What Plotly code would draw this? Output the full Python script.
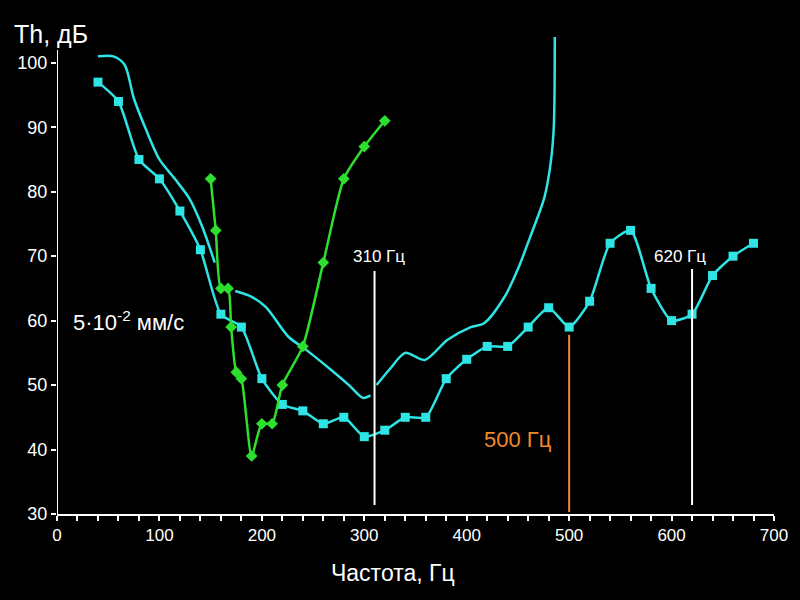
import plotly.graph_objects as go

# Series 1: cyan squares
s1_x = [40, 60, 80, 100, 120, 140, 160, 180, 200, 220, 240, 260, 280, 300, 320, 340, 360,
        380, 400, 420, 440, 460, 480, 500, 520, 540, 560, 580, 600, 620, 640, 660, 680]
s1_y = [97, 94, 85, 82, 77, 71, 61, 59, 51, 47, 46, 44, 45, 42, 43, 45, 45,
        51, 54, 56, 56, 59, 62, 59, 63, 72, 74, 65, 60, 61, 67, 70, 72]

# Series 2: green diamonds
s2_x = [150, 155, 160, 167, 170, 175, 180, 190, 200, 210, 220, 240, 260, 280, 300, 320]
s2_y = [82, 74, 65, 65, 59, 52, 51, 39, 44, 44, 50, 56, 69, 82, 87, 91]

# Series 3: cyan line without markers (with gaps)
s3_x = [40, 55, 66, 75, 87, 100, 115, 129, 142, 154, None,
        174, 190, 204, 226, 243, 268, 285, 299, 306, None,
        312, 325, 340, 359, 381, 404, 417, 437, 450, 462, 476, 482, 485, 486]
s3_y = [101, 101, 99.7, 94.5, 89.6, 85, 82, 79, 74.5, 69, None,
        64.6, 63.7, 62.1, 57.5, 55.5, 52.3, 50, 48, 48.4, None,
        50, 52.5, 55, 53.9, 57, 59, 59.6, 63.7, 68, 73, 79.2, 84.5, 90, 104]

# Marker lines
vlines = [310, 500, 620]
vline_tops = [67.7, 57.8, 68]
vline_bottoms = [31.4, 30.3, 31.4]
vline_labels = ["310 Гц", "500 Гц", "620 Гц"]

x_ticks = [0, 100, 200, 300, 400, 500, 600, 700]
y_ticks = [30, 40, 50, 60, 70, 80, 90, 100]

CYAN = "#2ee4e4"
GREEN = "#2ee02e"
ORANGE = "#f28a2a"
FONT = "Liberation Sans, Arial, sans-serif"

fig = go.Figure()

fig.add_trace(go.Scatter(x=s3_x, y=s3_y, mode="lines", connectgaps=False,
                         line=dict(color=CYAN, width=2.5, shape="spline", smoothing=0.8),
                         showlegend=False, hoverinfo="skip"))
fig.add_trace(go.Scatter(x=s1_x, y=s1_y, mode="lines+markers",
                         line=dict(color=CYAN, width=2.5, shape="spline", smoothing=0.6),
                         marker=dict(symbol="square", size=9, color=CYAN),
                         showlegend=False))
fig.add_trace(go.Scatter(x=s2_x, y=s2_y, mode="lines+markers",
                         line=dict(color=GREEN, width=2.5, shape="spline", smoothing=0.6),
                         marker=dict(symbol="diamond", size=9, color=GREEN),
                         showlegend=False))

# vertical marker lines
colors = ["white", ORANGE, "white"]
for xv, top, bot, col in zip(vlines, vline_tops, vline_bottoms, colors):
    fig.add_shape(type="line", xref="x", yref="y", x0=xv, x1=xv, y0=bot, y1=top,
                  line=dict(color=col, width=2))

fig.add_annotation(x=314, y=69.9, xref="x", yref="y", text=vline_labels[0], showarrow=False,
                   yanchor="middle", font=dict(color="white", size=17, family=FONT))
fig.add_annotation(x=608, y=70.0, xref="x", yref="y", text=vline_labels[2], showarrow=False,
                   yanchor="middle", font=dict(color="white", size=17, family=FONT))
fig.add_annotation(x=485, y=41.5, xref="x", yref="y", text=vline_labels[1], showarrow=False,
                   xanchor="right", yanchor="middle",
                   font=dict(color=ORANGE, size=22, family=FONT))

fig.add_annotation(x=14, y=60, xref="x", yref="y", text="5·10<sup>-2</sup> мм/с",
                   showarrow=False, xanchor="left", font=dict(color="white", size=22, family=FONT))

# y-axis line drawn as shape (stops at ~102)
fig.add_shape(type="line", xref="x", yref="y", x0=0, x1=0, y0=30, y1=102,
              line=dict(color="white", width=2))

# axis titles
fig.add_annotation(x=-0.063, y=1.006, xref="paper", yref="paper", text="Th, дБ",
                   showarrow=False, xanchor="left", yanchor="middle",
                   font=dict(color="white", size=25, family=FONT))
fig.add_annotation(x=0.469, y=-0.124, xref="paper", yref="paper", text="Частота, Гц",
                   showarrow=False, xanchor="center", yanchor="middle",
                   font=dict(color="white", size=23, family=FONT))

fig.update_layout(
    width=800, height=600,
    paper_bgcolor="black", plot_bgcolor="black",
    margin=dict(l=57, r=20, t=37, b=86),
    showlegend=False,
    xaxis=dict(range=[0, 700], tickvals=x_ticks, ticks="outside", ticklen=5, tickwidth=2,
               tickcolor="white", showline=True, linecolor="white", linewidth=2,
               showgrid=False, zeroline=False,
               tickfont=dict(color="white", size=17, family=FONT),
               minor=dict(dtick=20, ticks="outside", ticklen=5, tickwidth=2, tickcolor="white",
                          showgrid=False)),
    yaxis=dict(range=[30, 104], tickvals=y_ticks, ticks="outside", ticklen=5, tickwidth=2,
               tickcolor="white", showline=False, showgrid=False, zeroline=False,
               tickfont=dict(color="white", size=18, family=FONT)),
)

fig.write_html("out.html", config={"displayModeBar": False},
               post_script="document.body.style.margin='0';document.body.style.background='black';")
